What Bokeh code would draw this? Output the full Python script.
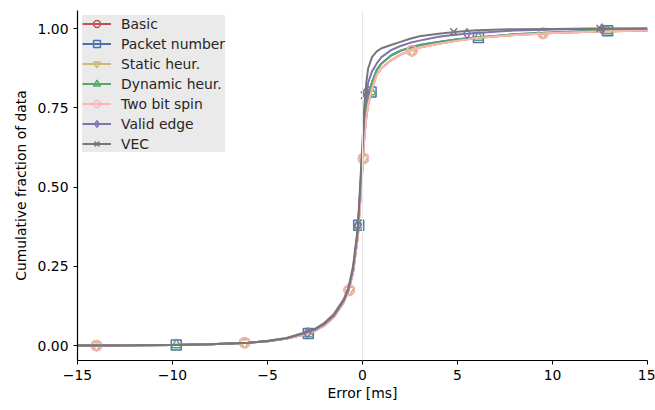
from bokeh.plotting import figure
from bokeh.models import Range1d, FixedTicker, Span, Legend, LegendItem
from bokeh.embed import file_html
from bokeh.resources import INLINE

# ---- data ----
x_grid = [-15, -12, -10, -8, -6, -5, -4, -3, -2.5, -2, -1.5, -1, -0.75, -0.5, -0.25,
          0, 0.1, 0.2, 0.3, 0.5, 0.75, 1, 1.5, 2, 2.5, 3, 4, 5, 6, 8, 10, 12, 15]

y_basic = [0, 0.001, 0.002, 0.004, 0.009, 0.014, 0.022, 0.036, 0.047, 0.063, 0.09, 0.135, 0.17, 0.23, 0.34,
           0.56, 0.66, 0.72, 0.76, 0.81, 0.855, 0.875, 0.9, 0.918, 0.93, 0.94, 0.952, 0.962, 0.97, 0.98, 0.986, 0.99, 0.994]
y_packet = [0, 0.001, 0.002, 0.004, 0.009, 0.014, 0.022, 0.037, 0.048, 0.065, 0.092, 0.137, 0.172, 0.235, 0.36,
            0.60, 0.70, 0.75, 0.79, 0.83, 0.87, 0.89, 0.915, 0.93, 0.94, 0.948, 0.958, 0.966, 0.972, 0.982, 0.988, 0.992, 0.995]
y_static = y_basic
y_dynamic = y_packet
y_twobit = y_basic
y_valid = [0, 0.001, 0.002, 0.004, 0.009, 0.014, 0.023, 0.04, 0.05, 0.068, 0.095, 0.14, 0.175, 0.24, 0.36,
           0.62, 0.73, 0.79, 0.83, 0.865, 0.89, 0.91, 0.932, 0.945, 0.955, 0.962, 0.974, 0.981, 0.986, 0.994, 0.997, 0.999, 1.0]
y_vec = [0, 0.001, 0.002, 0.004, 0.009, 0.015, 0.024, 0.042, 0.053, 0.072, 0.1, 0.145, 0.18, 0.25, 0.37,
         0.64, 0.76, 0.83, 0.875, 0.91, 0.928, 0.938, 0.948, 0.958, 0.968, 0.976, 0.984, 0.99, 0.995, 0.998, 0.999, 1.0, 1.0]

mk_basic_x = [-14, -6.2, -0.7, 0.05, 2.6, 9.5]
mk_basic_y = [0.0, 0.009, 0.175, 0.59, 0.93, 0.985]
mk_packet_x = [-9.8, -2.85, -0.2, 0.45, 6.1, 12.9]
mk_packet_y = [0.002, 0.038, 0.38, 0.80, 0.972, 0.993]
mk_valid_x = [-2.9, -0.25, 0.2, 5.5, 12.6]
mk_valid_y = [0.04, 0.38, 0.80, 0.984, 0.999]
mk_vec_x = [0.1, 4.8, 12.5]
mk_vec_y = [0.79, 0.99, 1.0]

labels = ["Basic", "Packet number", "Static heur.", "Dynamic heur.", "Two bit spin", "Valid edge", "VEC"]
colors = ["#C44E52", "#4C72B0", "#CCB974", "#55A868", "#FFB5B8", "#8172B2", "#777777"]
markers = ["circle", "square", "inverted_triangle", "triangle", "circle", "diamond", "x"]

x_ticks = [-15, -10, -5, 0, 5, 10, 15]
y_ticks = [0.0, 0.25, 0.5, 0.75, 1.0]

series = [
    (x_grid, y_basic, mk_basic_x, mk_basic_y),
    (x_grid, y_packet, mk_packet_x, mk_packet_y),
    (x_grid, y_static, mk_basic_x, mk_basic_y),
    (x_grid, y_dynamic, mk_packet_x, mk_packet_y),
    (x_grid, y_twobit, mk_basic_x, mk_basic_y),
    (x_grid, y_valid, mk_valid_x, mk_valid_y),
    (x_grid, y_vec, mk_vec_x, mk_vec_y),
]

FONT = "DejaVu Sans"
FS = "13.9px"

p = figure(width=655, height=410, output_backend="svg", toolbar_location=None,
           x_range=Range1d(-15, 15), y_range=Range1d(-0.047, 1.057),
           min_border_left=77, min_border_right=8, min_border_top=10, min_border_bottom=50)
p.outline_line_color = None
p.xgrid.visible = False
p.ygrid.visible = False
p.background_fill_color = "white"

p.add_layout(Span(location=0, dimension="height", line_color="#e6e6e6", line_width=1))

items = []
for (xs, ys, mx, my), lab, col, mk in zip(series, labels, colors, markers):
    r1 = p.line(xs, ys, line_color=col, line_width=2)
    r2 = p.scatter(mx, my, marker=mk, size=10, line_color=col, line_width=1.5, fill_alpha=0)
    items.append(LegendItem(label=lab, renderers=[r1, r2]))

legend = Legend(items=items, location="top_left")
legend.background_fill_color = "#EAEAEA"
legend.background_fill_alpha = 1
legend.border_line_color = None
legend.label_text_font = FONT
legend.label_text_font_size = FS
legend.label_text_color = "#262626"
legend.glyph_width = 29
legend.glyph_height = 17
legend.spacing = 3
legend.padding = 5
legend.margin = 5
legend.label_standoff = 10
p.add_layout(legend)

p.xaxis.ticker = FixedTicker(ticks=x_ticks)
p.yaxis.ticker = FixedTicker(ticks=y_ticks)
p.xaxis.major_label_overrides = {t: (("\u2212" + str(abs(t))) if t < 0 else str(t)) for t in x_ticks}
p.yaxis.major_label_overrides = {t: "%.2f" % t for t in y_ticks}
for ax in (p.xaxis, p.yaxis):
    ax.axis_line_color = "black"
    ax.axis_line_width = 1.2
    ax.major_tick_line_color = "black"
    ax.major_tick_out = 4
    ax.major_tick_in = 0
    ax.minor_tick_line_color = None
    ax.major_label_text_font = FONT
    ax.major_label_text_font_size = FS
    ax.major_label_text_color = "black"
    ax.axis_label_text_font = FONT
    ax.axis_label_text_font_size = FS
    ax.axis_label_text_font_style = "normal"
    ax.axis_label_text_color = "black"
p.xaxis.axis_label = "Error [ms]"
p.yaxis.axis_label = "Cumulative fraction of data"
p.xaxis.axis_label_standoff = 2
p.yaxis.axis_label_standoff = 6

open("out.html", "w").write(file_html(p, INLINE))
